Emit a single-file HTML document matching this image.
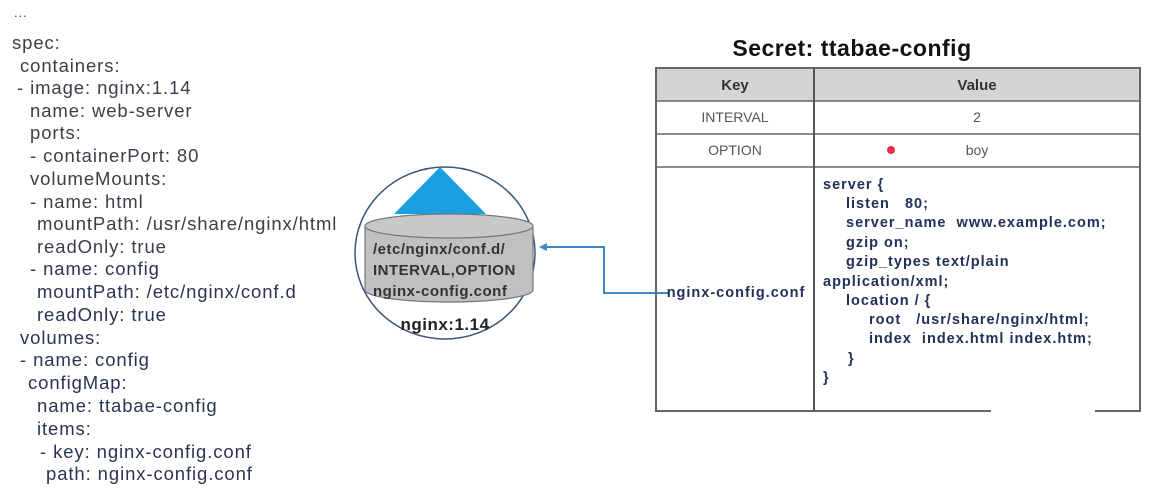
<!DOCTYPE html>
<html><head><meta charset="utf-8"><style>
html,body{margin:0;padding:0;background:#fff;}
svg{display:block;}
.y{font-family:"Liberation Sans",sans-serif;font-size:18.5px;letter-spacing:0.9px;fill:#3a3f4a;}
.d{fill:#2a3550;}
.c{font-family:"Liberation Sans",sans-serif;font-size:14.5px;letter-spacing:1px;font-weight:bold;fill:#22305a;}
.t{font-family:"Liberation Sans",sans-serif;font-size:14px;fill:#555;}
</style></head><body>
<svg width="1154" height="497" viewBox="0 0 1154 497" xmlns="http://www.w3.org/2000/svg">
<rect width="1154" height="497" fill="#fff"/>
<g class="y">
<text x="14" y="17" font-size="13">...</text>
<text x="12" y="49">spec:</text>
<text x="20" y="72">containers:</text>
<text x="17" y="94">- image: nginx:1.14</text>
<text x="30" y="117">name: web-server</text>
<text x="30" y="139">ports:</text>
<text x="30" y="162">- containerPort: 80</text>
<text x="30" y="185">volumeMounts:</text>
<text x="30" y="208">- name: html</text>
<text x="37" y="230">mountPath: /usr/share/nginx/html</text>
<text x="37" y="253">readOnly: true</text>
<text x="30" y="275" class="d">- name: config</text>
<text x="37" y="298" class="d">mountPath: /etc/nginx/conf.d</text>
<text x="37" y="321" class="d">readOnly: true</text>
<text x="20" y="344" class="d">volumes:</text>
<text x="20" y="366" class="d">- name: config</text>
<text x="28" y="389" class="d">configMap:</text>
<text x="37" y="412" class="d">name: ttabae-config</text>
<text x="37" y="435" class="d">items:</text>
<text x="40" y="458" class="d">- key: nginx-config.conf</text>
<text x="46" y="480" class="d">path: nginx-config.conf</text>
</g>
<!-- pod -->
<ellipse cx="445" cy="253" rx="90" ry="86" fill="#fff" stroke="#3b5577" stroke-width="1.5"/>
<polygon points="440,167 394,214 486,214" fill="#1aa0e0"/>
<path d="M365,226 L365,290 A84,12 0 0 0 533,290 L533,226" fill="#c0c0c0" stroke="#777" stroke-width="1.2"/>
<ellipse cx="449" cy="226" rx="84" ry="12" fill="#c8c8c8" stroke="#777" stroke-width="1.2"/>
<g font-family="Liberation Sans,sans-serif" font-weight="bold" font-size="15" letter-spacing="0.5" fill="#333">
<text x="373" y="254">/etc/nginx/conf.d/</text>
<text x="373" y="275">INTERVAL,OPTION</text>
<text x="373" y="296">nginx-config.conf</text>
<text x="445" y="330" text-anchor="middle" font-size="17" fill="#222">nginx:1.14</text>
</g>
<polyline points="668,293 604,293 604,247 544,247" fill="none" stroke="#3f88c5" stroke-width="2"/>
<polygon points="539,247 547,243 547,251" fill="#3f88c5"/>
<!-- table -->
<text x="852" y="56" text-anchor="middle" font-family="Liberation Sans,sans-serif" font-weight="bold" font-size="23" letter-spacing="0.5" fill="#111">Secret: ttabae-config</text>
<rect x="656" y="68" width="484" height="33" fill="#d4d4d4"/>
<rect x="656" y="68" width="484" height="343" fill="none" stroke="#666" stroke-width="2"/>
<line x1="656" y1="101" x2="1140" y2="101" stroke="#666" stroke-width="1.5"/>
<line x1="656" y1="134" x2="1140" y2="134" stroke="#666" stroke-width="1.5"/>
<line x1="656" y1="167" x2="1140" y2="167" stroke="#666" stroke-width="1.5"/>
<line x1="814" y1="68" x2="814" y2="411" stroke="#555" stroke-width="2"/>
<rect x="991" y="405" width="104" height="10" fill="#fff"/>
<g font-family="Liberation Sans,sans-serif" font-size="15" font-weight="bold" fill="#333" text-anchor="middle">
<text x="735" y="90">Key</text><text x="977" y="90">Value</text>
</g>
<g class="t" text-anchor="middle">
<text x="735" y="122">INTERVAL</text><text x="977" y="122">2</text>
<text x="735" y="155">OPTION</text><text x="977" y="155">boy</text>
</g>
<circle cx="891" cy="150" r="4" fill="#e0304a"/>
<text x="736" y="297" text-anchor="middle" class="c">nginx-config.conf</text>
<g class="c">
<text x="823" y="189">server {</text>
<text x="846" y="208">listen&#160;&#160;&#160;80;</text>
<text x="846" y="227">server_name&#160;&#160;www.example.com;</text>
<text x="846" y="247">gzip on;</text>
<text x="846" y="266">gzip_types text/plain</text>
<text x="823" y="286">application/xml;</text>
<text x="846" y="305">location / {</text>
<text x="869" y="324">root&#160;&#160;&#160;/usr/share/nginx/html;</text>
<text x="869" y="343">index&#160;&#160;index.html index.htm;</text>
<text x="848" y="363">}</text>
<text x="823" y="382">}</text>
</g>
</svg>
</body></html>
